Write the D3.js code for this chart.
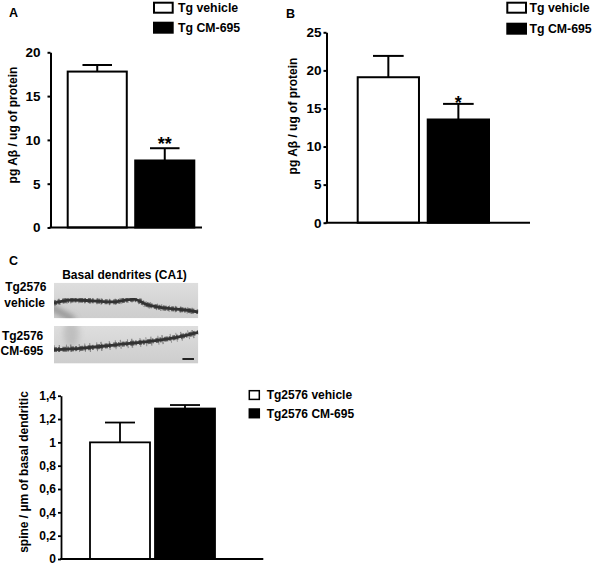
<!DOCTYPE html>
<html>
<head>
<meta charset="utf-8">
<script src="https://cdn.jsdelivr.net/npm/d3@7"></script>
<style>
  body { margin: 0; background: #fff; }
  text { font-family: "Liberation Sans", Arial, sans-serif; font-weight: bold; fill: #000; }
</style>
</head>
<body>
<svg id="figure" width="600" height="565"></svg>
<script>
// ---- data ----
const groupsAB = ["Tg vehicle", "Tg CM-695"];
const abetaA = [17.8, 7.65];
const abetaAErr = [0.75, 1.4];
const starsA = ["", "**"];
const ticksA = [0, 5, 10, 15, 20];

const abetaB = [19.1, 13.55];
const abetaBErr = [2.8, 2.05];
const starsB = ["", "*"];
const ticksB = [0, 5, 10, 15, 20, 25];

const groupsC = ["Tg2576 vehicle", "Tg2576 CM-695"];
const spineDensity = [1.0, 1.29];
const spineErr = [0.17, 0.03];
const starsC = ["", ""];
const ticksC = [0, 0.2, 0.4, 0.6, 0.8, 1, 1.2, 1.4];

const dendriteRows = [["Tg2576", "vehicle"], ["Tg2576", "CM-695"]];
// dendrite traces, relative to each micrograph (0..1)
const dendriteTraces = [
  [[0, 0.57], [0.11, 0.49], [0.27, 0.51], [0.41, 0.54], [0.56, 0.47], [0.64, 0.61], [0.76, 0.71], [0.89, 0.76], [1, 0.82]],
  [[0, 0.63], [0.2, 0.59], [0.43, 0.5], [0.66, 0.41], [0.85, 0.3], [1, 0.17]]
];

const FONT = '"Liberation Sans", Arial, sans-serif';
const svg = d3.select("#figure");
const commaFormat = d3.formatLocale({ decimal: ",", thousands: ".", grouping: [3], currency: ["", ""] }).format("~g");

// Panel letters
svg.append("text").attr("x", 9).attr("y", 17).attr("font-size", 12.5).text("A");
svg.append("text").attr("x", 286).attr("y", 18.3).attr("font-size", 12.5).text("B");
svg.append("text").attr("x", 9).attr("y", 265).attr("font-size", 12.5).text("C");

drawBarPanel({
  groups: groupsAB, values: abetaA, errors: abetaAErr, stars: starsA, ticks: ticksA,
  yMax: 20, top: 52.3, bottom: 227.5, axisX: 50.5, axisEnd: 202,
  barRange: [67.7, 194.3], padding: 0.125, tickSize: 3, tickPadding: 7, tickFont: 13.5,
  format: d3.format("d"), starFont: 18, starGap: -2, lineW: 2,
  label: "pg Aβ / ug of protein", labelX: 17, labelY: 125, labelFont: 12,
  legend: { x: 154, y: 2.7, w: 18.7, h: 10, step: 20, textX: 178, font: 12.3, stroke: 2 }
});

drawBarPanel({
  groups: groupsAB, values: abetaB, errors: abetaBErr, stars: starsB, ticks: ticksB,
  yMax: 25, top: 32.3, bottom: 222.7, axisX: 326.5, axisEnd: 530,
  barRange: [357.7, 489], padding: 0.125, tickSize: 3, tickPadding: 2, tickFont: 13.5,
  format: d3.format("d"), starFont: 18, starGap: -5, lineW: 2,
  label: "pg Aβ / ug of protein", labelX: 297, labelY: 116, labelFont: 12,
  legend: { x: 507.3, y: 2.7, w: 18.7, h: 10, step: 21, textX: 529.5, font: 12.3, stroke: 2 }
});

drawBarPanel({
  groups: groupsC, values: spineDensity, errors: spineErr, stars: starsC, ticks: ticksC,
  yMax: 1.4, top: 395.7, bottom: 559, axisX: 61, axisEnd: 263.3,
  barRange: [90, 215], padding: 0.077, tickSize: 3, tickPadding: 2, tickFont: 12,
  format: commaFormat, starFont: 15, starGap: 0, lineW: 1.8,
  label: "spine / µm of basal dendritic", labelX: 28, labelY: 472, labelFont: 12,
  legend: { x: 249.3, y: 390.7, w: 10, h: 8.7, step: 18.3, textX: 266.7, font: 12, stroke: 1.5 }
});

drawDendrites();

function drawBarPanel(o) {
  const data = o.groups.map((g, i) => ({ group: g, value: o.values[i], err: o.errors[i], star: o.stars[i] }));

  // Scales
  const y = d3.scaleLinear().domain([0, o.yMax]).range([o.bottom, o.top]);
  const x = d3.scaleBand().domain(o.groups).range(o.barRange).paddingInner(o.padding).paddingOuter(0);

  // Bars
  svg.append("g")
    .selectAll("rect")
    .data(data)
    .join("rect")
    .attr("x", (d) => x(d.group))
    .attr("y", (d) => y(d.value))
    .attr("width", x.bandwidth())
    .attr("height", (d) => y(0) - y(d.value))
    .attr("fill", (d, i) => (i === 0 ? "#fff" : "#000"))
    .attr("stroke", "#000")
    .attr("stroke-width", o.lineW);

  // Error bars (upper only)
  const err = svg.append("g").attr("stroke", "#000").attr("stroke-width", o.lineW);
  err.selectAll(".stem")
    .data(data)
    .join("line")
    .attr("class", "stem")
    .attr("x1", (d) => x(d.group) + x.bandwidth() / 2)
    .attr("x2", (d) => x(d.group) + x.bandwidth() / 2)
    .attr("y1", (d) => y(d.value))
    .attr("y2", (d) => y(d.value + d.err));
  err.selectAll(".cap")
    .data(data)
    .join("line")
    .attr("class", "cap")
    .attr("x1", (d) => x(d.group) + x.bandwidth() * 0.25)
    .attr("x2", (d) => x(d.group) + x.bandwidth() * 0.75)
    .attr("y1", (d) => y(d.value + d.err))
    .attr("y2", (d) => y(d.value + d.err));

  // Significance stars
  svg.append("g")
    .selectAll("text")
    .data(data.filter((d) => d.star))
    .join("text")
    .attr("x", (d) => x(d.group) + x.bandwidth() / 2)
    .attr("y", (d) => y(d.value + d.err) - o.starGap)
    .attr("text-anchor", "middle")
    .attr("font-size", o.starFont)
    .text((d) => d.star);

  // Y axis
  const yAxis = svg.append("g")
    .attr("transform", `translate(${o.axisX},0)`)
    .call(d3.axisLeft(y).tickValues(o.ticks).tickFormat(o.format)
      .tickSize(o.tickSize).tickSizeOuter(0).tickPadding(o.tickPadding))
    .attr("font-family", FONT)
    .attr("font-size", o.tickFont)
    .attr("font-weight", "bold");
  yAxis.select(".domain").attr("stroke-width", o.lineW);
  yAxis.selectAll(".tick line").attr("stroke-width", o.lineW);

  // X axis baseline (no ticks)
  svg.append("line")
    .attr("x1", o.axisX - o.lineW / 2)
    .attr("x2", o.axisEnd)
    .attr("y1", y(0))
    .attr("y2", y(0))
    .attr("stroke", "#000")
    .attr("stroke-width", o.lineW);

  // Y axis title
  svg.append("text")
    .attr("transform", `translate(${o.labelX},${o.labelY}) rotate(-90)`)
    .attr("text-anchor", "middle")
    .attr("font-size", o.labelFont)
    .text(o.label);

  // Legend
  const lg = o.legend;
  const items = svg.append("g")
    .selectAll("g")
    .data(data)
    .join("g")
    .attr("transform", (d, i) => `translate(0,${lg.y + i * lg.step})`);
  items.append("rect")
    .attr("x", lg.x)
    .attr("width", lg.w)
    .attr("height", lg.h)
    .attr("fill", (d, i) => (i === 0 ? "#fff" : "#000"))
    .attr("stroke", "#000")
    .attr("stroke-width", lg.stroke);
  items.append("text")
    .attr("x", lg.textX)
    .attr("y", lg.h / 2)
    .attr("dy", "0.36em")
    .attr("font-size", lg.font)
    .text((d) => d.group);
}

function drawDendrites() {
  const u = d3.scaleLinear().domain([0, 1]).range([54, 198.3]);
  const rowTops = [282.7, 326];
  const rowHeights = [35.6, 37.6];
  const defs = svg.append("defs");

  const grad = defs.append("linearGradient").attr("id", "bg").attr("x1", 0).attr("y1", 0).attr("x2", 0).attr("y2", 1);
  grad.append("stop").attr("offset", "0%").attr("stop-color", "#dedede");
  grad.append("stop").attr("offset", "100%").attr("stop-color", "#cdcdcd");
  defs.append("filter").attr("id", "blur").attr("x", "-50%").attr("y", "-50%").attr("width", "200%").attr("height", "200%")
    .append("feGaussianBlur").attr("stdDeviation", 3);
  defs.append("filter").attr("id", "soft")
    .append("feGaussianBlur").attr("stdDeviation", 0.5);

  svg.append("text")
    .attr("x", 124.5)
    .attr("y", 279)
    .attr("text-anchor", "middle")
    .attr("font-size", 12)
    .text("Basal dendrites (CA1)");

  dendriteRows.forEach((labels, r) => {
    const v = d3.scaleLinear().domain([0, 1]).range([rowTops[r], rowTops[r] + rowHeights[r]]);
    const clipId = `clip${r}`;
    defs.append("clipPath").attr("id", clipId)
      .append("rect").attr("x", u(0)).attr("y", v(0)).attr("width", u(1) - u(0)).attr("height", v(1) - v(0));

    const g = svg.append("g").attr("clip-path", `url(#${clipId})`);
    g.append("rect")
      .attr("x", u(0)).attr("y", v(0))
      .attr("width", u(1) - u(0)).attr("height", v(1) - v(0))
      .attr("fill", "url(#bg)");

    // out-of-focus shading in the micrographs
    if (r === 0) {
      g.append("line")
        .attr("x1", u(-0.05)).attr("y1", v(0.62)).attr("x2", u(0.14)).attr("y2", v(1.05))
        .attr("stroke", "#707070").attr("stroke-width", 4).attr("filter", "url(#blur)");
    } else {
      g.append("ellipse")
        .attr("cx", u(0.12)).attr("cy", v(0.2)).attr("rx", 8).attr("ry", 14)
        .attr("fill", "#b4b4b4").attr("opacity", 0.7).attr("filter", "url(#blur)");
    }

    // dendrite shaft with irregular spines
    const line = d3.line().x((d) => u(d[0])).y((d) => v(d[1])).curve(d3.curveCatmullRom);
    const path = line(dendriteTraces[r]);
    const den = g.append("g").attr("filter", "url(#soft)");
    den.append("path").attr("d", path).attr("fill", "none")
      .attr("stroke", "#6a6a6a").attr("stroke-width", r === 0 ? 6.5 : 9)
      .attr("stroke-dasharray", "1 4 1.2 6 1 3 1.5 7 1 5")
      .attr("opacity", 0.7);
    den.append("path").attr("d", path).attr("fill", "none")
      .attr("stroke", "#4a4a4a").attr("stroke-width", 5)
      .attr("stroke-dasharray", "3 1 2 2.5 4 1 1.5 2")
      .attr("opacity", 0.8);
    den.append("path").attr("d", path).attr("fill", "none")
      .attr("stroke", "#333").attr("stroke-width", 2.8);

    if (r === 1) {
      // scale bar
      g.append("line")
        .attr("x1", u(0.89)).attr("x2", u(0.97))
        .attr("y1", v(0.88)).attr("y2", v(0.88))
        .attr("stroke", "#222").attr("stroke-width", 2);
    }

    // row labels
    const anchorX = r === 0 ? 46.5 : 43.3;
    svg.append("text")
      .attr("x", anchorX).attr("y", r === 0 ? 291 : 339.5)
      .attr("text-anchor", "end").attr("font-size", 12)
      .text(labels[0]);
    svg.append("text")
      .attr("x", anchorX - (r === 0 ? 1.5 : 0)).attr("y", r === 0 ? 307 : 355)
      .attr("text-anchor", "end").attr("font-size", 12)
      .text(labels[1]);
  });
}
</script>
</body>
</html>
